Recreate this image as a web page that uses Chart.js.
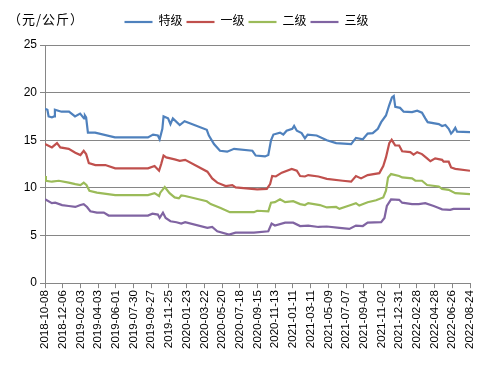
<!DOCTYPE html>
<html>
<head>
<meta charset="utf-8">
<script src="https://cdn.jsdelivr.net/npm/chart.js@4.4.1/dist/chart.umd.min.js"></script>
<style>
  html, body { margin: 0; padding: 0; background: #fff; }
  #wrap { position: relative; width: 488px; height: 367px; }
  #unit { position: absolute; left: 8px; top: 11px; font: 13px 'Noto Sans CJK SC', sans-serif; letter-spacing: 1px; color: #000; line-height: 16px; }
</style>
</head>
<body>
<div id="wrap">
  <canvas id="chart" width="488" height="367"></canvas>
  <div id="unit">（元/公斤）</div>
</div>
<script>
// 鲜茶价格 — days counted from 2018-10-08
const START = Date.UTC(2018, 9, 8);
const seriesNames = ['特级', '一级', '二级', '三级'];
const seriesColors = ['#4f81bd', '#c0504d', '#9bbb59', '#8064a2'];
const yTicks = [0, 5, 10, 15, 20, 25];

const tejiDays = [0, 8, 12, 23, 30, 33, 55, 80, 100, 117, 130, 133, 137, 143, 167, 233, 343, 360, 376, 382, 391, 395, 410, 418, 426, 449, 465, 539, 546, 563, 583, 607, 630, 691, 702, 733, 744, 753, 761, 783, 794, 805, 824, 830, 839, 855, 866, 875, 905, 939, 970, 1020, 1036, 1059, 1075, 1092, 1109, 1120, 1136, 1147, 1156, 1162, 1167, 1183, 1195, 1223, 1240, 1256, 1267, 1275, 1312, 1323, 1334, 1345, 1353, 1359, 1367, 1373, 1416];
const tejiPrice = [18.3, 18.2, 17.5, 17.4, 17.5, 18.2, 18.0, 18.0, 17.5, 17.8, 17.3, 17.6, 17.4, 15.8, 15.8, 15.3, 15.3, 15.6, 15.5, 15.1, 16.2, 17.5, 17.3, 16.7, 17.3, 16.6, 17.0, 16.1, 15.5, 14.6, 13.9, 13.8, 14.1, 13.9, 13.4, 13.3, 13.45, 15.0, 15.6, 15.8, 15.6, 16.0, 16.2, 16.5, 16.0, 15.75, 15.2, 15.6, 15.5, 15.0, 14.7, 14.6, 15.25, 15.1, 15.7, 15.75, 16.2, 16.9, 17.6, 18.7, 19.5, 19.65, 18.5, 18.4, 18.0, 17.95, 18.1, 17.9, 17.3, 16.9, 16.7, 16.5, 16.6, 16.2, 15.7, 15.9, 16.3, 15.9, 15.85];

const yijiDays = [0, 23, 40, 51, 79, 101, 118, 129, 137, 146, 168, 201, 234, 343, 365, 380, 387, 395, 404, 432, 449, 467, 541, 557, 574, 602, 624, 635, 707, 739, 750, 757, 769, 789, 822, 839, 850, 866, 877, 911, 939, 992, 1020, 1036, 1053, 1075, 1114, 1127, 1136, 1147, 1155, 1162, 1167, 1180, 1190, 1217, 1228, 1240, 1256, 1273, 1284, 1300, 1323, 1328, 1345, 1353, 1367, 1416];
const yijiPrice = [14.6, 14.25, 14.7, 14.25, 14.1, 13.7, 13.45, 13.9, 13.55, 12.6, 12.4, 12.4, 12.05, 12.05, 12.3, 11.8, 12.5, 13.4, 13.2, 13.0, 12.85, 12.95, 11.7, 11.0, 10.55, 10.2, 10.3, 10.05, 9.85, 9.9, 10.4, 11.25, 11.2, 11.6, 12.0, 11.8, 11.25, 11.2, 11.35, 11.2, 10.95, 10.75, 10.65, 11.25, 11.0, 11.35, 11.55, 12.3, 13.2, 14.7, 15.05, 14.7, 14.45, 14.45, 13.85, 13.75, 13.5, 13.75, 13.55, 13.1, 12.8, 13.1, 12.95, 12.75, 12.75, 12.15, 12.0, 11.8];

const erjiDays = [0, 3, 23, 46, 79, 101, 118, 129, 138, 148, 173, 234, 343, 365, 380, 384, 399, 415, 432, 446, 454, 467, 539, 552, 585, 616, 696, 707, 744, 753, 766, 783, 800, 827, 850, 866, 877, 916, 939, 970, 981, 1014, 1036, 1047, 1075, 1103, 1127, 1136, 1143, 1153, 1180, 1190, 1223, 1234, 1256, 1273, 1312, 1323, 1345, 1367, 1416];
const erjiPrice = [11.25, 10.75, 10.65, 10.75, 10.55, 10.4, 10.3, 10.55, 10.3, 9.7, 9.5, 9.25, 9.25, 9.45, 9.15, 9.5, 10.1, 9.45, 9.0, 8.9, 9.2, 9.15, 8.6, 8.3, 7.9, 7.45, 7.45, 7.6, 7.55, 8.45, 8.5, 8.8, 8.5, 8.6, 8.3, 8.2, 8.4, 8.2, 7.95, 8.0, 7.8, 8.15, 8.4, 8.15, 8.5, 8.7, 9.0, 9.7, 11.1, 11.45, 11.25, 11.1, 11.0, 10.75, 10.75, 10.3, 10.15, 9.9, 9.8, 9.45, 9.35];

const sanjiDays = [0, 23, 34, 57, 79, 101, 118, 129, 140, 151, 173, 196, 212, 343, 358, 376, 382, 393, 402, 418, 438, 454, 467, 541, 557, 574, 613, 635, 696, 744, 755, 766, 800, 827, 850, 877, 911, 939, 981, 1014, 1036, 1059, 1075, 1120, 1131, 1139, 1153, 1180, 1190, 1223, 1245, 1267, 1295, 1312, 1323, 1350, 1361, 1416];
const sanjiPrice = [8.8, 8.4, 8.45, 8.2, 8.1, 8.0, 8.2, 8.3, 8.0, 7.55, 7.4, 7.4, 7.1, 7.1, 7.3, 7.2, 6.85, 7.4, 6.85, 6.5, 6.4, 6.25, 6.4, 5.8, 5.9, 5.45, 5.1, 5.3, 5.3, 5.45, 6.25, 6.05, 6.35, 6.35, 6.0, 6.05, 5.9, 5.95, 5.8, 5.7, 6.05, 6.0, 6.35, 6.4, 6.85, 8.1, 8.8, 8.75, 8.45, 8.3, 8.3, 8.4, 8.1, 7.9, 7.75, 7.7, 7.8, 7.8];

const allDays = [tejiDays, yijiDays, erjiDays, sanjiDays];
const allPrices = [tejiPrice, yijiPrice, erjiPrice, sanjiPrice];

function dayLabel(d) {
  return new Date(START + d * 86400000).toISOString().slice(0, 10);
}

const FONT = "'Liberation Sans', 'Noto Sans CJK SC', sans-serif";

// extra gap under the legend
const legendGap = {
  id: 'legendGap',
  beforeInit(chart) {
    if (!chart.legend) return;
    const origFit = chart.legend.fit;
    chart.legend.fit = function () {
      origFit.call(this);
      this.height += 7;
    };
  },
};

const datasets = seriesNames.map((name, i) => ({
  label: name,
  data: allDays[i].map((d, k) => ({ x: d, y: allPrices[i][k] })),
  borderColor: seriesColors[i],
  backgroundColor: seriesColors[i],
  borderWidth: 2.2,
  pointRadius: 0,
  tension: 0,
  fill: false,
}));

new Chart(document.getElementById('chart'), {
  type: 'line',
  data: { datasets },
  plugins: [legendGap],
  options: {
    responsive: false,
    animation: false,
    layout: { padding: { left: 23, right: 18, top: 12, bottom: 16 } },
    plugins: {
      legend: {
        display: true, position: 'top',
        labels: {
          color: '#000', font: { family: FONT, size: 12 },
          usePointStyle: true, pointStyle: 'line', pointStyleWidth: 28,
          boxHeight: 12, padding: 4,
        },
      },
      tooltip: { enabled: false },
    },
    scales: {
      x: {
        type: 'linear', min: 0, max: 1416,
        ticks: {
          stepSize: 59, autoSkip: false, maxRotation: 90, minRotation: 90,
          color: '#000', font: { family: FONT, size: 11.5 }, padding: 2,
          callback: v => dayLabel(v),
        },
        grid: { display: true, drawOnChartArea: false, drawTicks: true, tickLength: 5, color: '#868686' },
        border: { display: true, color: '#868686', width: 1 },
      },
      y: {
        min: 0, max: 25,
        afterFit: s => { s.width = 22; },
        afterBuildTicks: s => { s.ticks = yTicks.map(v => ({ value: v })); },
        ticks: { color: '#000', font: { family: FONT, size: 12 }, padding: 3 },
        grid: { color: '#868686', tickLength: 5, lineWidth: 1 },
        border: { display: true, color: '#868686', width: 1 },
      },
    },
  },
});
</script>
</body>
</html>
